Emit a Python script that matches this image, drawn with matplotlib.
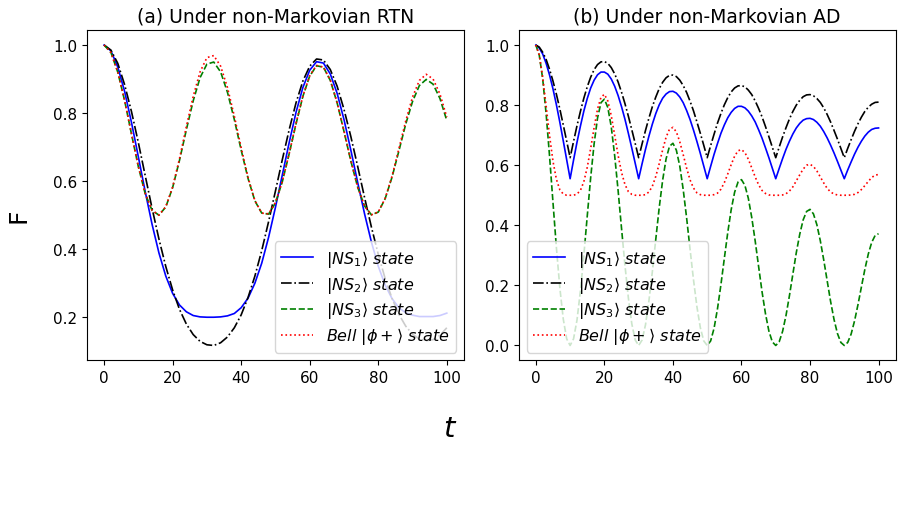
import matplotlib
matplotlib.use("Agg")
import matplotlib.pyplot as plt

# time samples
t_rtn = list(range(0, 101, 2))
t_ad = list(range(0, 101))

# (a) non-Markovian RTN
ns1_rtn = [1.000, 0.983, 0.935, 0.863, 0.772, 0.671, 0.569, 0.473, 0.389, 0.321,
           0.270, 0.236, 0.216, 0.205, 0.201, 0.200, 0.200, 0.201, 0.204, 0.211,
           0.228, 0.256, 0.300, 0.359, 0.435, 0.523, 0.618, 0.713, 0.802, 0.875,
           0.926, 0.951, 0.947, 0.915, 0.858, 0.781, 0.691, 0.596, 0.504, 0.421,
           0.350, 0.295, 0.255, 0.228, 0.213, 0.206, 0.202, 0.202, 0.202, 0.205,
           0.212]
ns2_rtn = [1.000, 0.985, 0.946, 0.883, 0.804, 0.713, 0.616, 0.520, 0.430, 0.349,
           0.280, 0.223, 0.180, 0.149, 0.129, 0.119, 0.117, 0.125, 0.142, 0.169,
           0.207, 0.258, 0.321, 0.396, 0.481, 0.571, 0.663, 0.751, 0.830, 0.894,
           0.938, 0.959, 0.956, 0.928, 0.879, 0.811, 0.731, 0.643, 0.552, 0.465,
           0.385, 0.314, 0.256, 0.209, 0.174, 0.150, 0.136, 0.131, 0.134, 0.147,
           0.169]
ns3_rtn = [1.000, 0.978, 0.920, 0.836, 0.738, 0.642, 0.563, 0.514, 0.500, 0.524,
           0.581, 0.661, 0.751, 0.836, 0.904, 0.944, 0.950, 0.921, 0.861, 0.781,
           0.691, 0.608, 0.542, 0.506, 0.503, 0.536, 0.598, 0.680, 0.768, 0.849,
           0.909, 0.939, 0.935, 0.896, 0.830, 0.746, 0.659, 0.582, 0.527, 0.501,
           0.509, 0.548, 0.611, 0.688, 0.767, 0.834, 0.881, 0.899, 0.885, 0.843,
           0.778]
bell_rtn = [1.000, 0.978, 0.921, 0.837, 0.739, 0.643, 0.564, 0.514, 0.500, 0.525,
            0.583, 0.666, 0.760, 0.849, 0.921, 0.963, 0.969, 0.938, 0.875, 0.791,
            0.698, 0.611, 0.543, 0.506, 0.504, 0.537, 0.599, 0.681, 0.770, 0.850,
            0.910, 0.940, 0.935, 0.897, 0.831, 0.748, 0.661, 0.583, 0.527, 0.501,
            0.509, 0.549, 0.614, 0.694, 0.776, 0.847, 0.896, 0.914, 0.900, 0.856,
            0.788]

# (b) non-Markovian AD
ns1_ad = [1.000, 0.990, 0.970, 0.939, 0.900, 0.854, 0.801, 0.743, 0.681, 0.618,
          0.555, 0.617, 0.676, 0.730, 0.780, 0.822, 0.857, 0.883, 0.901, 0.910,
          0.910, 0.903, 0.887, 0.863, 0.832, 0.795, 0.753, 0.706, 0.657, 0.606,
          0.555, 0.605, 0.653, 0.697, 0.737, 0.772, 0.801, 0.823, 0.837, 0.845,
          0.846, 0.840, 0.827, 0.808, 0.782, 0.752, 0.717, 0.679, 0.639, 0.597,
          0.555, 0.596, 0.636, 0.672, 0.706, 0.734, 0.758, 0.776, 0.789, 0.796,
          0.796, 0.791, 0.780, 0.764, 0.744, 0.718, 0.690, 0.658, 0.625, 0.590,
          0.555, 0.589, 0.622, 0.653, 0.680, 0.704, 0.724, 0.739, 0.750, 0.755,
          0.756, 0.752, 0.743, 0.730, 0.712, 0.691, 0.667, 0.641, 0.613, 0.584,
          0.555, 0.584, 0.611, 0.637, 0.660, 0.680, 0.697, 0.710, 0.719, 0.723,
          0.724]
ns2_ad = [1.000, 0.993, 0.976, 0.952, 0.919, 0.880, 0.836, 0.787, 0.734, 0.680,
          0.625, 0.679, 0.731, 0.779, 0.823, 0.861, 0.893, 0.918, 0.935, 0.944,
          0.945, 0.939, 0.925, 0.904, 0.877, 0.843, 0.805, 0.763, 0.718, 0.672,
          0.625, 0.671, 0.716, 0.757, 0.795, 0.827, 0.855, 0.876, 0.891, 0.899,
          0.900, 0.895, 0.883, 0.865, 0.842, 0.813, 0.781, 0.744, 0.706, 0.666,
          0.625, 0.665, 0.703, 0.740, 0.772, 0.801, 0.825, 0.844, 0.857, 0.864,
          0.865, 0.861, 0.850, 0.835, 0.814, 0.789, 0.761, 0.729, 0.695, 0.660,
          0.625, 0.660, 0.694, 0.725, 0.754, 0.779, 0.800, 0.816, 0.828, 0.834,
          0.835, 0.831, 0.822, 0.809, 0.791, 0.769, 0.744, 0.716, 0.687, 0.656,
          0.625, 0.656, 0.685, 0.713, 0.738, 0.760, 0.779, 0.793, 0.803, 0.809,
          0.810]
ns3_ad = [1.000, 0.966, 0.887, 0.771, 0.630, 0.476, 0.325, 0.192, 0.088, 0.022,
          0.000, 0.022, 0.084, 0.181, 0.300, 0.431, 0.559, 0.671, 0.757, 0.808,
          0.820, 0.792, 0.728, 0.632, 0.516, 0.390, 0.267, 0.158, 0.072, 0.018,
          0.000, 0.018, 0.069, 0.149, 0.246, 0.354, 0.459, 0.550, 0.621, 0.663,
          0.673, 0.650, 0.597, 0.519, 0.424, 0.320, 0.219, 0.129, 0.059, 0.015,
          0.000, 0.015, 0.057, 0.122, 0.202, 0.290, 0.376, 0.452, 0.510, 0.544,
          0.552, 0.533, 0.490, 0.426, 0.348, 0.263, 0.179, 0.106, 0.048, 0.012,
          0.000, 0.012, 0.047, 0.100, 0.166, 0.238, 0.309, 0.370, 0.418, 0.446,
          0.453, 0.438, 0.402, 0.349, 0.285, 0.216, 0.147, 0.087, 0.040, 0.010,
          0.000, 0.010, 0.038, 0.082, 0.136, 0.195, 0.253, 0.304, 0.343, 0.366,
          0.372]
bell_ad = [1.000, 0.967, 0.893, 0.797, 0.698, 0.613, 0.553, 0.518, 0.504, 0.500,
           0.500, 0.500, 0.504, 0.516, 0.545, 0.593, 0.656, 0.725, 0.787, 0.826,
           0.836, 0.814, 0.765, 0.700, 0.633, 0.576, 0.536, 0.512, 0.503, 0.500,
           0.500, 0.500, 0.502, 0.511, 0.530, 0.563, 0.605, 0.651, 0.693, 0.720,
           0.726, 0.711, 0.678, 0.635, 0.590, 0.551, 0.524, 0.508, 0.502, 0.500,
           0.500, 0.500, 0.502, 0.507, 0.520, 0.542, 0.571, 0.602, 0.630, 0.648,
           0.652, 0.642, 0.620, 0.591, 0.561, 0.535, 0.516, 0.506, 0.501, 0.500,
           0.500, 0.500, 0.501, 0.505, 0.514, 0.528, 0.548, 0.568, 0.587, 0.600,
           0.603, 0.596, 0.581, 0.561, 0.541, 0.523, 0.511, 0.504, 0.501, 0.500,
           0.500, 0.500, 0.501, 0.503, 0.509, 0.519, 0.532, 0.546, 0.559, 0.567,
           0.569]

labels = [r'$|NS_1\rangle\ state$', r'$|NS_2\rangle\ state$',
          r'$|NS_3\rangle\ state$', r'$Bell\ |\phi+\rangle\ state$']
styles = [('b', '-'), ('k', '-.'), ('g', '--'), ('r', ':')]


def draw(ax, title, t, series, loc):
    for y, (c, ls), lab in zip(series, styles, labels):
        ax.plot(t, y, color=c, linestyle=ls, linewidth=1.2, label=lab)
    ax.set_title(title, fontsize=13.5)
    ax.tick_params(labelsize=11)
    ax.legend(loc=loc, fontsize=11.5, labelspacing=0.3)


fig = plt.figure(figsize=(9.04, 5.10), dpi=100)
ax1 = fig.add_axes([0.0962, 0.2912, 0.417, 0.648])
ax2 = fig.add_axes([0.5738, 0.2912, 0.417, 0.648])

draw(ax1, '(a) Under non-Markovian RTN', t_rtn,
     [ns1_rtn, ns2_rtn, ns3_rtn, bell_rtn], 'lower right')
draw(ax2, '(b) Under non-Markovian AD', t_ad,
     [ns1_ad, ns2_ad, ns3_ad, bell_ad], 'lower left')

fig.text(0.02, 0.576, 'F', rotation=90, fontsize=18, ha='center', va='center')
fig.text(0.498, 0.159, '$t$', fontsize=21, ha='center', va='center')

fig.savefig('out.png', dpi=100)
